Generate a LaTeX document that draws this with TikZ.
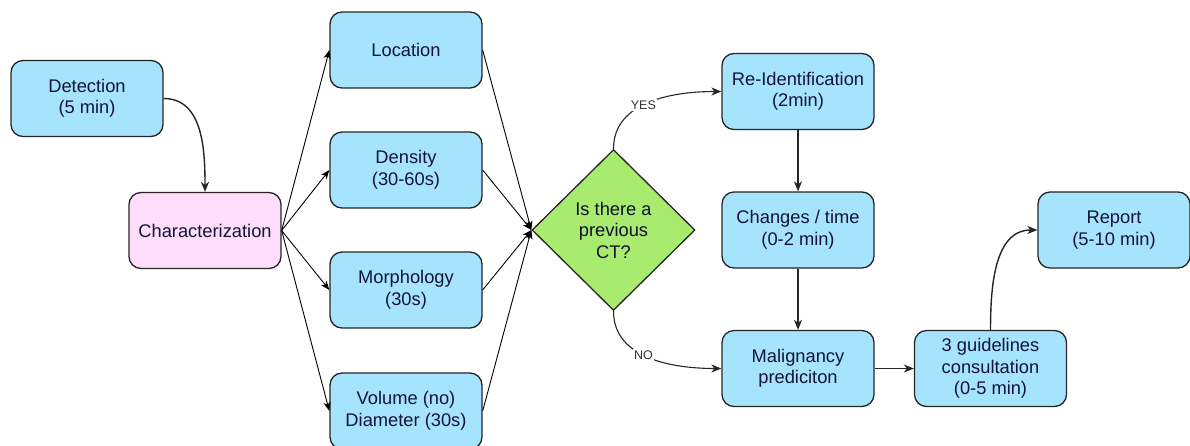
\documentclass[tikz,border=0pt]{standalone}
\usepackage{fontspec}
\setmainfont{Liberation Sans}
\usetikzlibrary{arrows.meta,shapes.geometric}
\definecolor{boxblue}{HTML}{A6E3FC}
\definecolor{boxpink}{HTML}{FDDDF9}
\definecolor{diagreen}{HTML}{A8EB6E}
\definecolor{inktext}{HTML}{14143A}
\definecolor{edge}{HTML}{262626}
\begin{document}
\begin{tikzpicture}[x=1pt,y=-1pt,
  stepbox/.style={draw=edge,line width=1.3pt,rounded corners=12pt,fill=boxblue,
    minimum width=152pt,minimum height=76pt,inner sep=0pt,align=center,
    text=inktext,font=\fontsize{18.3}{21.5}\selectfont},
  pinkbox/.style={stepbox,fill=boxpink},
  decision/.style={diamond,draw=edge,line width=1.3pt,fill=diagreen,
    minimum width=163pt,minimum height=161pt,inner sep=0pt,align=center,
    text=inktext!80!black,font=\fontsize{18.3}{21.5}\selectfont},
  flow/.style={draw=edge,line width=1.4pt,-{Stealth[length=10pt,width=8pt,inset=3pt]}},
  fan/.style={draw=black,line width=0.9pt,-{Stealth[length=9pt,width=7pt,inset=2.5pt]}},
  tag/.style={fill=white,inner sep=1.5pt,text=black!80,font=\fontsize{12.5}{14}\selectfont}]
\useasboundingbox (0,0) rectangle (1190,445);
\fill[white] (0,0) rectangle (1190,445);

% left column
\node[stepbox] (det) at (87,98.5) {Detection\\(5 min)};
\node[pinkbox] (chr) at (205,230.5) {Characterization};

% attribute column
\node[stepbox] (loc) at (406,50) {Location};
\node[stepbox] (den) at (406,170) {Density\\(30-60s)};
\node[stepbox] (mor) at (406,290) {Morphology\\(30s)};
\node[stepbox] (vol) at (406,411) {Volume (no)\\Diameter (30s)};

% decision
\node[decision] (ct) at (613.5,230) {Is there a\\previous\\CT?};

% right part
\node[stepbox] (rid) at (798,91.5) {Re-Identification\\(2min)};
\node[stepbox] (chg) at (798,230) {Changes / time\\(0-2 min)};
\node[stepbox] (mal) at (798,368.5) {Malignancy\\prediciton};
\node[stepbox] (gdl) at (990.5,368.5) {3 guidelines\\consultation\\(0-5 min)};
\node[stepbox] (rep) at (1114,230) {Report\\(5-10 min)};

% connectors
\draw[flow] (det.east) to[out=0,in=90] (chr.north);

\draw[fan] (chr.east) -- (loc.west);
\draw[fan] (chr.east) -- (den.west);
\draw[fan] (chr.east) -- (mor.west);
\draw[fan] (chr.east) -- (vol.west);

\draw[fan] (loc.east) -- (ct.west);
\draw[fan] (den.east) -- (ct.west);
\draw[fan] (mor.east) -- (ct.west);
\draw[fan] (vol.east) -- (ct.west);

\draw[flow,line width=1.1pt] (ct.north) to[out=90,in=180] node[tag,pos=0.45] {YES} (rid.west);
\draw[flow,line width=1.1pt] (ct.south) to[out=-90,in=180] node[tag,pos=0.45] {NO} (mal.west);

\draw[flow] (rid.south) -- (chg.north);
\draw[flow] (chg.south) -- (mal.north);
\draw[flow] (mal.east) -- (gdl.west);
\draw[flow] (gdl.north) to[out=90,in=180] (rep.west);
\end{tikzpicture}
\end{document}
